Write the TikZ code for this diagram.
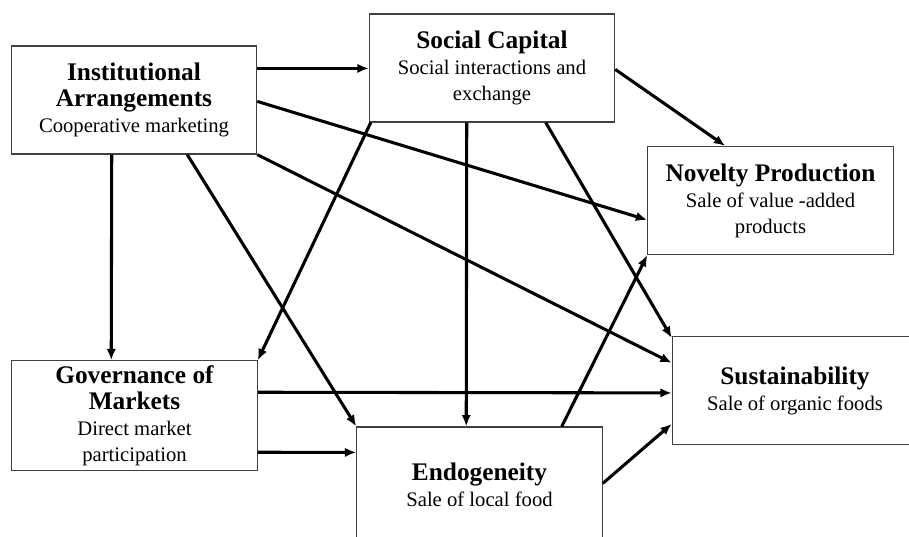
\documentclass[tikz,border=0pt]{standalone}
\usepackage{fontspec}
\setmainfont{Liberation Serif}
\usetikzlibrary{arrows.meta}

\newcommand{\headfont}{\fontsize{19}{20}\selectfont\bfseries}
\newcommand{\bodyfont}{\fontsize{15.5}{20}\selectfont}

\tikzset{
  factor/.style={draw=black!75, line width=0.9pt, minimum width=184pt, minimum height=81pt, inner sep=0pt, align=center, font={\fontsize{15.5}{19.5}\selectfont}},
  link/.style={->, line width=2.3pt},
}

\begin{document}
\begin{tikzpicture}[x=0.75pt, y=-0.75pt, >={Latex[length=8.5pt,width=7pt]}]
\clip (0,0) rectangle (909,536);
\fill[white] (0,0) rectangle (909,536);

\node[factor] (ia) at (134,100) {\headfont Institutional\\ \headfont Arrangements\\ \bodyfont Cooperative marketing};
\node[factor] (sc) at (492,68) {\headfont Social Capital\\ \bodyfont Social interactions and\\ \bodyfont exchange};
\node[factor] (np) at (770.5,200.5) {\headfont Novelty Production\\ \bodyfont Sale of value -added\\ \bodyfont products};
\node[factor, minimum height=82pt] (gm) at (134.5,415.5) {\headfont Governance of\\ \headfont Markets\\ \bodyfont Direct market\\ \bodyfont participation};
\node[factor, minimum height=87pt] (en) at (479.5,485) {\headfont Endogeneity\\ \bodyfont Sale of local food};
\node[factor] (su) at (795,390.5) {\headfont Sustainability\\ \bodyfont Sale of organic foods};

% from institutional arrangements
\draw[link] ([shift={(0,23)}]ia.north east) -- ([shift={(0,55)}]sc.north west);
\draw[link] ([shift={(0,56)}]ia.north east) -- ([shift={(0,74)}]np.north west);
\draw[link] (ia.south east) -- ([shift={(0,27)}]su.north west);
\draw[link] ([shift={(101,0)}]ia.south west) -- ([shift={(100,0)}]gm.north west);
\draw[link] ([shift={(-70,0)}]ia.south east) -- (en.north west);

% from social capital
\draw[link] ([shift={(2,0)}]sc.south west) -- (gm.north east);
\draw[link] ([shift={(98,0)}]sc.south west) -- ([shift={(110,0)}]en.north west);
\draw[link] ([shift={(177,0)}]sc.south west) -- ([shift={(0,2)}]su.north west);
\draw[link] ([shift={(0,56)}]sc.north east) -- ([shift={(78,0)}]np.north west);

% from governance and endogeneity
\draw[link] ([shift={(-41,0)}]en.north east) -- (np.south west);
\draw[link] ([shift={(0,32)}]gm.north east) -- ([shift={(0,57)}]su.north west);
\draw[link] ([shift={(0,92)}]gm.north east) -- ([shift={(0,26)}]en.north west);
\draw[link] ([shift={(0,57)}]en.north east) -- ([shift={(0,88)}]su.north west);
\end{tikzpicture}
\end{document}
